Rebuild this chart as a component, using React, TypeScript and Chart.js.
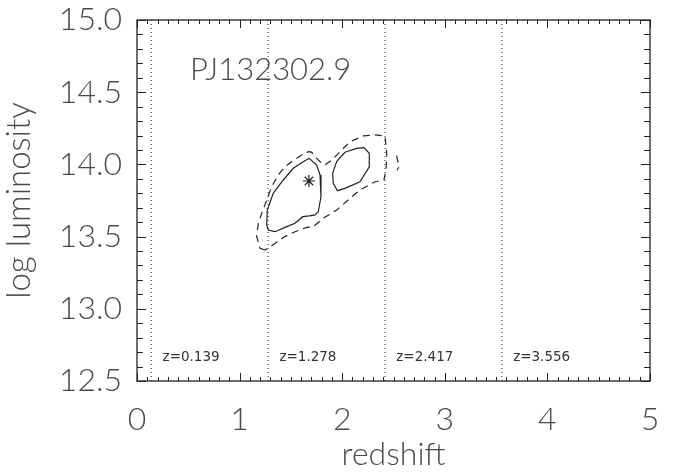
import React, { useEffect, useRef } from 'react';
import { Chart, registerables } from 'chart.js';

Chart.register(...registerables);

// ---- data ----
const xTickValues = [0, 1, 2, 3, 4, 5];
const yTickValues = [12.5, 13.0, 13.5, 14.0, 14.5, 15.0];
const zLines = [0.139, 1.278, 2.417, 3.556];
const objectName = 'PJ132302.9';
const bestFit = [1.676, 13.885];

const innerContourLeft: number[][] = [
  [1.679, 14.042], [1.751, 13.996], [1.784, 13.927], [1.793, 13.776], [1.767, 13.672],
  [1.735, 13.65], [1.679, 13.643], [1.615, 13.638], [1.54, 13.592], [1.442, 13.564],
  [1.345, 13.534], [1.28, 13.546], [1.264, 13.58], [1.27, 13.684], [1.328, 13.8],
  [1.426, 13.892], [1.523, 13.973], [1.605, 14.012], [1.679, 14.042],
];
const innerContourRight: number[][] = [
  [2.027, 14.084], [2.141, 14.111], [2.212, 14.116], [2.264, 14.077], [2.264, 13.984],
  [2.173, 13.88], [2.027, 13.834], [1.953, 13.818], [1.913, 13.869], [1.907, 13.938],
  [1.946, 14.019], [2.027, 14.084],
];
const outerContour: number[][] = [
  [1.248, 13.407], [1.199, 13.419], [1.167, 13.5], [1.182, 13.592], [1.215, 13.661],
  [1.264, 13.753], [1.313, 13.846], [1.377, 13.927], [1.442, 13.984], [1.508, 14.019],
  [1.605, 14.065], [1.67, 14.088], [1.7, 14.085], [1.751, 14.042], [1.8, 14.008],
  [1.832, 13.996], [1.898, 14.03], [1.979, 14.088], [2.076, 14.157], [2.206, 14.197],
  [2.32, 14.204], [2.417, 14.197], [2.434, 14.077], [2.427, 13.961], [2.407, 13.892],
  [2.32, 13.88], [2.173, 13.823], [2.076, 13.765], [1.946, 13.684], [1.816, 13.627],
  [1.718, 13.569], [1.654, 13.564], [1.54, 13.534], [1.442, 13.5], [1.345, 13.453],
  [1.248, 13.407],
];
const outerContourIsland: number[][] = [
  [2.53, 14.06], [2.545, 14.01], [2.555, 13.985], [2.535, 13.96],
];

// annotation anchors in data units
const titleAnchor = [0.517, 14.654];
const zLabelY = 12.66;
const zLabelShift = 0.11;

const TEXT = '#4a4a4a';
const FONT = 'Lato';

const toPts = (arr: number[][]) => arr.map(([x, y]) => ({ x, y }));

const framePlugin = {
  id: 'frame',
  afterDatasetsDraw(chart: any) {
    const { ctx, chartArea: a, scales } = chart;
    const xs = scales.x;
    const ys = scales.y;
    ctx.save();
    ctx.strokeStyle = '#222';
    ctx.lineWidth = 1.3;
    ctx.strokeRect(a.left, a.top, a.right - a.left, a.bottom - a.top);
    ctx.lineWidth = 1;
    ctx.beginPath();
    for (let i = 0; i <= 50; i++) {
      const v = i / 10;
      const px = Math.round(xs.getPixelForValue(v)) + 0.5;
      const len = i % 10 === 0 ? 8 : 4;
      ctx.moveTo(px, a.bottom);
      ctx.lineTo(px, a.bottom - len);
      ctx.moveTo(px, a.top);
      ctx.lineTo(px, a.top + len);
    }
    for (let i = 0; i <= 25; i++) {
      const v = 12.5 + i / 10;
      const py = Math.round(ys.getPixelForValue(v)) + 0.5;
      const len = i % 5 === 0 ? 9 : 6;
      ctx.moveTo(a.left, py);
      ctx.lineTo(a.left + len, py);
      ctx.moveTo(a.right, py);
      ctx.lineTo(a.right - len, py);
    }
    ctx.stroke();

    // object name
    ctx.fillStyle = TEXT;
    ctx.font = `300 31px ${FONT}`;
    ctx.textAlign = 'left';
    ctx.textBaseline = 'middle';
    ctx.fillText(objectName, xs.getPixelForValue(titleAnchor[0]), ys.getPixelForValue(titleAnchor[1]));

    // redshift labels
    ctx.fillStyle = '#333';
    ctx.font = '13.5px "DejaVu Sans"';
    zLines.forEach((z) => {
      ctx.fillText('z=' + z.toFixed(3), xs.getPixelForValue(z + zLabelShift), ys.getPixelForValue(zLabelY));
    });
    ctx.restore();
  },
};

export default function App() {
  const ref = useRef<HTMLCanvasElement>(null);
  useEffect(() => {
    if (!ref.current) return;
    const lineDs = (data: number[][], dash: number[], width = 1.2) => ({
      type: 'scatter' as const,
      data: toPts(data),
      showLine: true,
      borderColor: '#222',
      borderWidth: width,
      borderDash: dash,
      pointRadius: 0,
      tension: 0,
      fill: false,
    });
    const datasets: any[] = [
      ...zLines.map((z) => lineDs([[z, 12.5], [z, 15]], [1, 3], 1)),
      lineDs(innerContourLeft, []),
      lineDs(innerContourRight, []),
      lineDs(outerContour, [7, 5]),
      lineDs(outerContourIsland, [7, 5]),
      {
        type: 'scatter',
        data: [{ x: bestFit[0], y: bestFit[1] }],
        pointStyle: 'star',
        pointRadius: 6,
        borderColor: '#222',
        backgroundColor: '#222',
        borderWidth: 1.2,
      },
    ];
    const chart = new Chart(ref.current, {
      type: 'scatter',
      data: { datasets },
      options: {
        animation: false,
        responsive: false,
        layout: { padding: { top: 20, right: 23, left: 0, bottom: 0 } },
        plugins: { legend: { display: false }, tooltip: { enabled: false } },
        scales: {
          x: {
            type: 'linear',
            min: 0,
            max: 5,
            afterBuildTicks: (s: any) => { s.ticks = xTickValues.map((v) => ({ value: v })); },
            afterFit: (s: any) => { s.height = 95; s.paddingLeft = 0; s.paddingRight = 0; },
            grid: { display: false, drawTicks: false },
            border: { display: false },
            ticks: {
              color: TEXT,
              padding: 19,
              font: { family: FONT, size: 32, weight: '300' as any },
              callback: (v: any) => String(v),
            },
            title: {
              display: true,
              text: 'redshift',
              color: TEXT,
              font: { family: FONT, size: 32, weight: '300' as any, lineHeight: 1 },
              padding: { top: 0, bottom: 5 },
            },
          },
          y: {
            type: 'linear',
            min: 12.5,
            max: 15,
            afterBuildTicks: (s: any) => { s.ticks = yTickValues.map((v) => ({ value: v })); },
            afterFit: (s: any) => { s.width = 137; s.paddingTop = 0; s.paddingBottom = 0; },
            grid: { display: false, drawTicks: false },
            border: { display: false },
            ticks: {
              color: TEXT,
              padding: 15,
              font: { family: FONT, size: 32, weight: '300' as any },
              callback: (v: any) => Number(v).toFixed(1),
            },
            title: {
              display: true,
              text: 'log luminosity',
              color: TEXT,
              font: { family: FONT, size: 33, weight: '300' as any, lineHeight: 1 },
              padding: { top: 3, bottom: 0 },
            },
          },
        },
      },
      plugins: [framePlugin],
    });
    return () => chart.destroy();
  }, []);
  return (
    <div style={{ position: 'absolute', left: 0, top: 0, width: 673, height: 476, background: '#fff' }}>
      <canvas ref={ref} width={673} height={476} style={{ display: 'block' }} />
    </div>
  );
}
